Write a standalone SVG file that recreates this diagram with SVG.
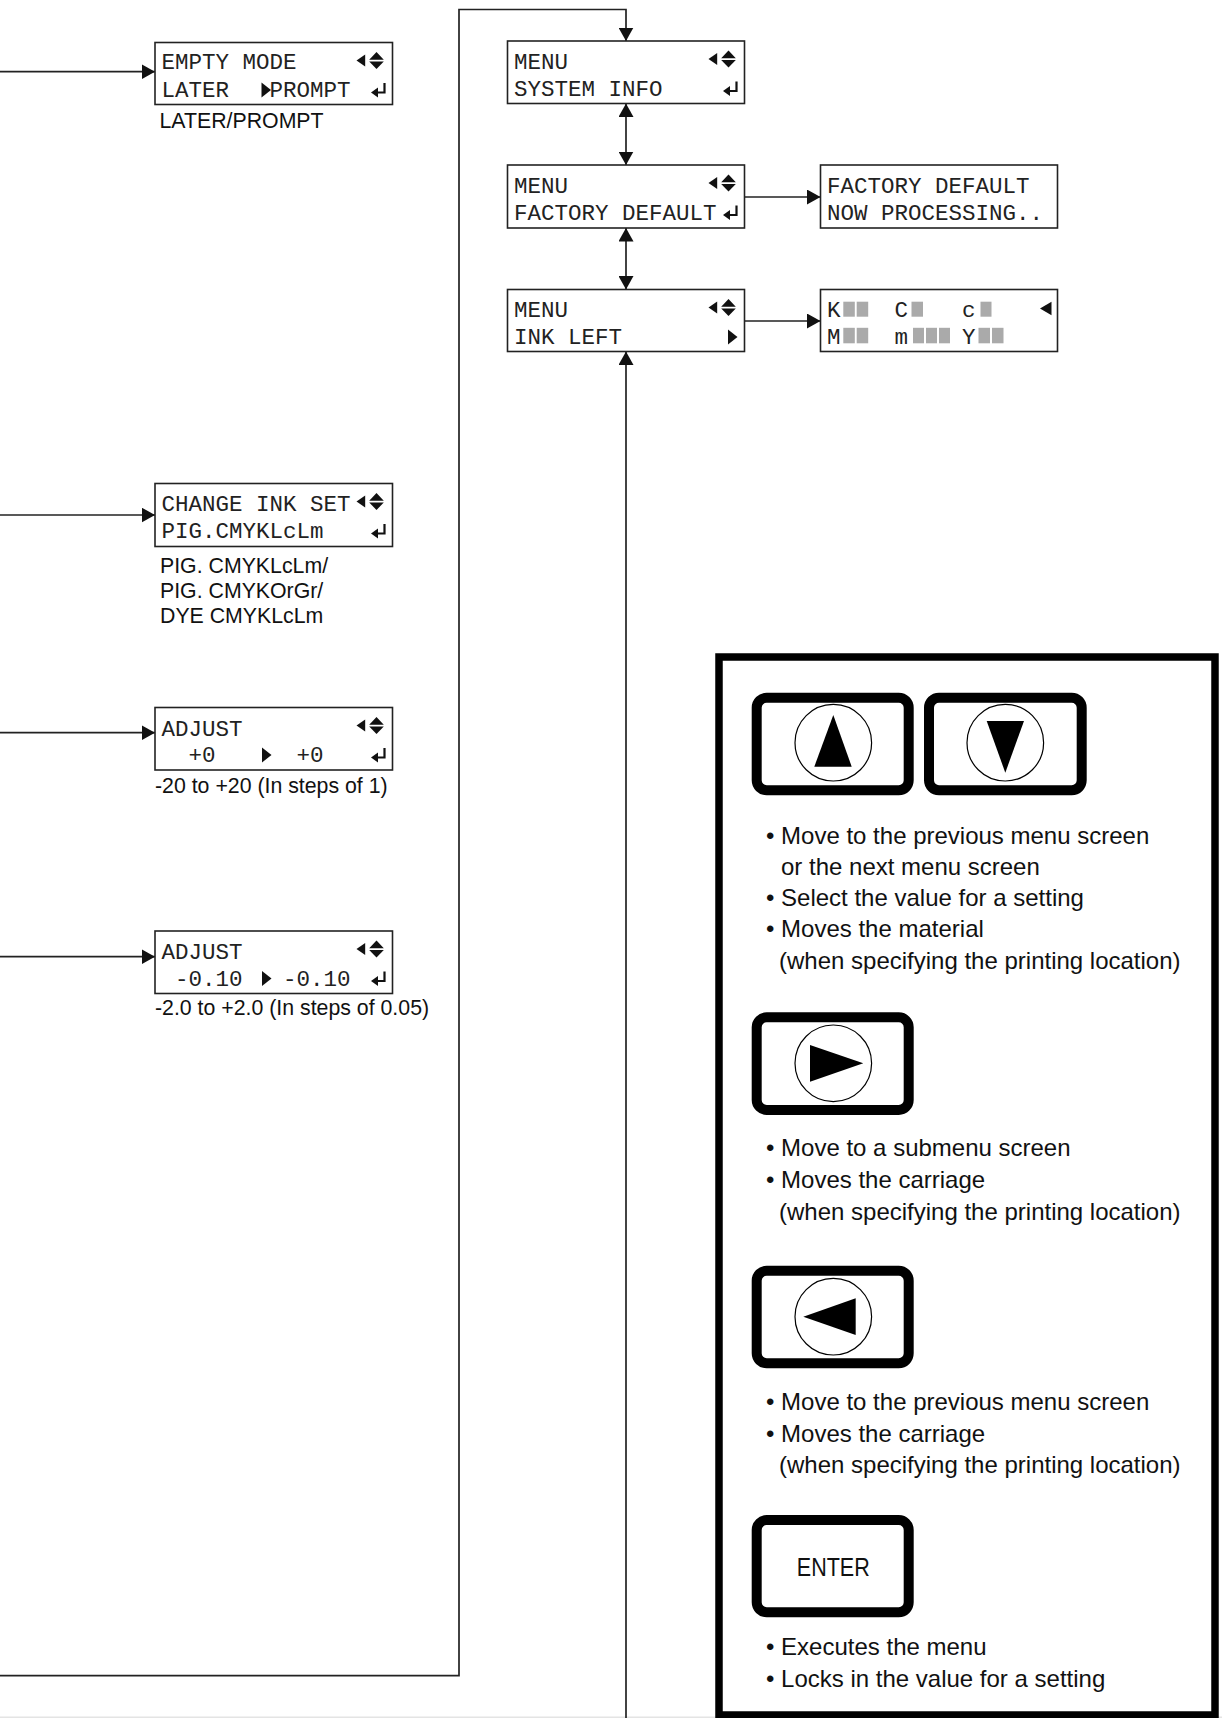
<svg xmlns="http://www.w3.org/2000/svg" xmlns:xlink="http://www.w3.org/1999/xlink" width="1222" height="1718" viewBox="0 0 1222 1718">
<style>
.bg{fill:#ffffff}
.box{fill:#ffffff;stroke:#222;stroke-width:1.6}
.mono{font-family:"Liberation Mono","DejaVu Sans Mono",monospace;font-size:22.5px;fill:#222}
.lbl{font-family:"Liberation Sans",Arial,sans-serif;font-size:21.3px;fill:#111}
.desc{font-family:"Liberation Sans",Arial,sans-serif;font-size:24px;fill:#111}
.conn{fill:none;stroke:#222;stroke-width:1.7}
.ico{fill:#111}
.blk{fill:#aaaaaa}
.btn{fill:#ffffff;stroke:#000;stroke-width:10}
.circ{fill:none;stroke:#000;stroke-width:1.2}
.panel{fill:none;stroke:#000;stroke-width:7.5}
</style>
<defs>
<marker id="ah" markerWidth="15" markerHeight="15" refX="13.5" refY="7.5" orient="auto-start-reverse" markerUnits="userSpaceOnUse">
<path d="M0,0 L13.5,7.5 L0,15 z" fill="#111"/>
</marker>
<g id="lr">
<polygon class="ico" points="-36,18 -27.3,12 -27.3,24"/>
<polygon class="ico" points="-16,9.5 -23.3,17.2 -8.7,17.2"/>
<polygon class="ico" points="-23.3,19 -8.7,19 -16,26.5"/>
</g>
<g id="ent">
<path d="M-8,40.5 V50 H-15" fill="none" stroke="#111" stroke-width="2.2"/>
<polygon class="ico" points="-21.5,50 -14.5,45 -14.5,55"/>
</g>
<polygon id="tri" class="ico" points="0,40 9.5,47.5 0,55"/>
</defs>
<rect class="bg" x="0" y="0" width="1222" height="1718"/>
<rect x="0" y="1716.5" width="1222" height="1.5" fill="#e4e4e4"/>

<g id="connectors">
<path class="conn" d="M0,71.7 H155" marker-end="url(#ah)"/>
<path class="conn" d="M0,515 H155" marker-end="url(#ah)"/>
<path class="conn" d="M0,732.7 H155" marker-end="url(#ah)"/>
<path class="conn" d="M0,956.7 H155" marker-end="url(#ah)"/>
<path class="conn" d="M0,1675.7 H459 V9.5 H626 V41" marker-end="url(#ah)"/>
<path class="conn" d="M626,103.5 V165" marker-start="url(#ah)" marker-end="url(#ah)"/>
<path class="conn" d="M626,228 V289.5" marker-start="url(#ah)" marker-end="url(#ah)"/>
<path class="conn" d="M744.5,197 H820.5" marker-end="url(#ah)"/>
<path class="conn" d="M744.5,321 H820.5" marker-end="url(#ah)"/>
<path class="conn" d="M626,1718 V351.5" marker-end="url(#ah)"/>
</g>

<g id="empty-mode">
<rect class="box" x="155" y="42.5" width="237.5" height="62"/>
<text class="mono" x="161.5" y="69">EMPTY MODE</text>
<text class="mono" x="161.5" y="96.5">LATER</text>
<use xlink:href="#tri" x="261.5" y="42.5"/>
<text class="mono" x="269.5" y="96.5">PROMPT</text>
<use xlink:href="#lr" x="392.5" y="42.5"/>
<use xlink:href="#ent" x="392.5" y="42.5"/>
<text class="lbl" x="159.5" y="128.3">LATER/PROMPT</text>
</g>

<g id="change-ink-set">
<rect class="box" x="155" y="483.5" width="237.5" height="63"/>
<text class="mono" x="161.5" y="510.5">CHANGE INK SET</text>
<text class="mono" x="161.5" y="537.5">PIG.CMYKLcLm</text>
<use xlink:href="#lr" x="392.5" y="483.5"/>
<use xlink:href="#ent" x="392.5" y="483.5"/>
<text class="lbl" x="160" y="572.5">PIG. CMYKLcLm/</text>
<text class="lbl" x="160" y="597.5">PIG. CMYKOrGr/</text>
<text class="lbl" x="160" y="622.5">DYE CMYKLcLm</text>
</g>

<g id="adjust-1">
<rect class="box" x="155" y="707.5" width="237.5" height="62.5"/>
<text class="mono" x="161.5" y="735.5">ADJUST</text>
<text class="mono" x="188.5" y="762">+0</text>
<use xlink:href="#tri" x="262" y="707.5"/>
<text class="mono" x="296.5" y="762">+0</text>
<use xlink:href="#lr" x="392.5" y="707.5"/>
<use xlink:href="#ent" x="392.5" y="707.5"/>
<text class="lbl" x="155" y="793.3">-20 to +20 (In steps of 1)</text>
</g>

<g id="adjust-2">
<rect class="box" x="155" y="931" width="237.5" height="62.5"/>
<text class="mono" x="161.5" y="958.5">ADJUST</text>
<text class="mono" x="175" y="985.5">-0.10</text>
<use xlink:href="#tri" x="262" y="931"/>
<text class="mono" x="283" y="985.5">-0.10</text>
<use xlink:href="#lr" x="392.5" y="931"/>
<use xlink:href="#ent" x="392.5" y="931"/>
<text class="lbl" x="155" y="1015">-2.0 to +2.0 (In steps of 0.05)</text>
</g>

<g id="menu-system-info">
<rect class="box" x="507.5" y="41" width="237" height="62.5"/>
<text class="mono" x="514" y="69">MENU</text>
<text class="mono" x="514" y="95.5">SYSTEM INFO</text>
<use xlink:href="#lr" x="744.5" y="41"/>
<use xlink:href="#ent" x="744.5" y="41"/>
</g>

<g id="menu-factory-default">
<rect class="box" x="507.5" y="165" width="237" height="63"/>
<text class="mono" x="514" y="193">MENU</text>
<text class="mono" x="514" y="220">FACTORY DEFAULT</text>
<use xlink:href="#lr" x="744.5" y="165"/>
<use xlink:href="#ent" x="744.5" y="165"/>
</g>

<g id="menu-ink-left">
<rect class="box" x="507.5" y="289.5" width="237" height="62"/>
<text class="mono" x="514" y="317">MENU</text>
<text class="mono" x="514" y="344">INK LEFT</text>
<use xlink:href="#lr" x="744.5" y="289.5"/>
<use xlink:href="#tri" x="728" y="289.5"/>
</g>

<g id="factory-processing">
<rect class="box" x="820.5" y="165" width="237" height="63"/>
<text class="mono" x="827" y="193">FACTORY DEFAULT</text>
<text class="mono" x="827" y="220">NOW PROCESSING..</text>
</g>

<g id="ink-left-levels">
<rect class="box" x="820.5" y="289.5" width="237" height="62"/>
<text class="mono" x="827" y="317">K</text>
<text class="mono" x="894.5" y="317">C</text>
<text class="mono" x="962" y="317">c</text>
<text class="mono" x="827" y="343.5">M</text>
<text class="mono" x="894.5" y="343.5">m</text>
<text class="mono" x="962" y="343.5">Y</text>
<rect class="blk" x="843.3" y="301.7" width="11.5" height="15"/>
<rect class="blk" x="856.7" y="301.7" width="11.5" height="15"/>
<rect class="blk" x="911.5" y="301.7" width="11.5" height="15"/>
<rect class="blk" x="980.5" y="301.7" width="11" height="15"/>
<rect class="blk" x="843.3" y="327.8" width="11.5" height="15.5"/>
<rect class="blk" x="856.7" y="327.8" width="11.5" height="15.5"/>
<rect class="blk" x="913" y="327.8" width="11" height="15.5"/>
<rect class="blk" x="926" y="327.8" width="11" height="15.5"/>
<rect class="blk" x="939" y="327.8" width="11" height="15.5"/>
<rect class="blk" x="978.5" y="327.8" width="11.5" height="15.5"/>
<rect class="blk" x="992" y="327.8" width="11.5" height="15.5"/>
<polygon class="ico" points="1040,308.5 1051.5,301.7 1051.5,315.2"/>
</g>

<g id="key-panel">
<rect class="panel" x="719" y="657" width="496" height="1058"/>

<g id="btn-up">
<rect class="btn" x="756.7" y="697.7" width="152" height="92.6" rx="10"/>
<circle class="circ" cx="833.3" cy="742.7" r="38.3"/>
<polygon points="833.3,715 814.3,766.7 851.7,766.7" fill="#000"/>
</g>
<g id="btn-down">
<rect class="btn" x="929" y="697.7" width="152.7" height="92.6" rx="10"/>
<circle class="circ" cx="1005.3" cy="742.7" r="38.3"/>
<polygon points="986.7,721 1024,721 1005.3,772.7" fill="#000"/>
</g>
<text class="desc" x="766" y="843.5">• Move to the previous menu screen</text>
<text class="desc" x="781" y="874.5">or the next menu screen</text>
<text class="desc" x="766" y="905.5">• Select the value for a setting</text>
<text class="desc" x="766" y="937">• Moves the material</text>
<text class="desc" x="779" y="968.5">(when specifying the printing location)</text>

<g id="btn-right">
<rect class="btn" x="756.7" y="1017.3" width="152" height="92.7" rx="10"/>
<circle class="circ" cx="833.3" cy="1063.3" r="38.3"/>
<polygon points="810,1045 863.3,1063.3 810,1081.7" fill="#000"/>
</g>
<text class="desc" x="766" y="1156">• Move to a submenu screen</text>
<text class="desc" x="766" y="1188">• Moves the carriage</text>
<text class="desc" x="779" y="1220">(when specifying the printing location)</text>

<g id="btn-left">
<rect class="btn" x="756.7" y="1270.7" width="152" height="92.6" rx="10"/>
<circle class="circ" cx="833.3" cy="1316.7" r="38.3"/>
<polygon points="803.3,1316.7 855.7,1298.3 855.7,1335" fill="#000"/>
</g>
<text class="desc" x="766" y="1410">• Move to the previous menu screen</text>
<text class="desc" x="766" y="1441.5">• Moves the carriage</text>
<text class="desc" x="779" y="1473">(when specifying the printing location)</text>

<g id="btn-enter">
<rect class="btn" x="756.7" y="1520" width="152" height="92.3" rx="10"/>
<text x="833.3" y="1575.5" text-anchor="middle" font-family="Liberation Sans, Arial, sans-serif" font-size="25" fill="#111" textLength="73" lengthAdjust="spacingAndGlyphs">ENTER</text>
</g>
<text class="desc" x="766" y="1655">• Executes the menu</text>
<text class="desc" x="766" y="1686.5">• Locks in the value for a setting</text>
</g>
</svg>
